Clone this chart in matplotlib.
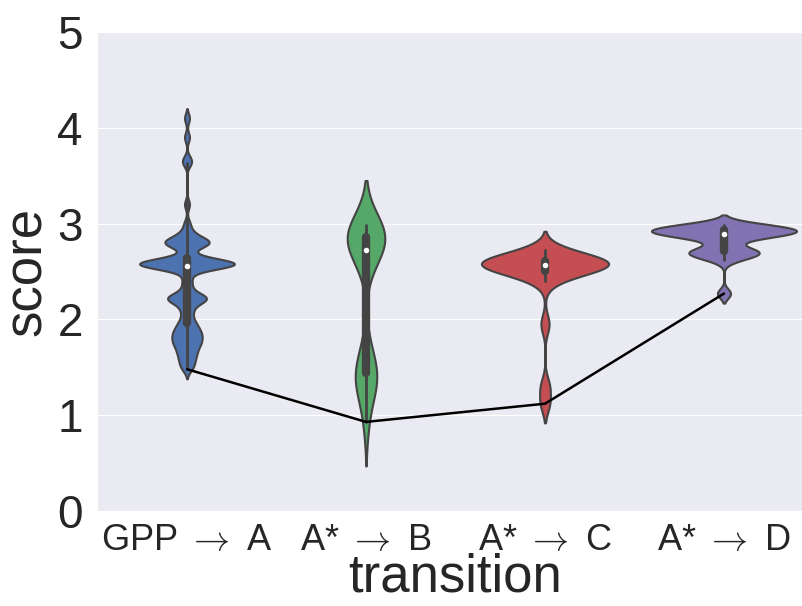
import matplotlib
matplotlib.use("Agg")
import matplotlib.pyplot as plt
import numpy as np
import seaborn as sns

# transitions on the x axis
transitions = [r"GPP $\rightarrow$ A", r"A* $\rightarrow$ B",
               r"A* $\rightarrow$ C", r"A* $\rightarrow$ D"]
colors = ["#4C72B0", "#55A868", "#C44E52", "#8172B2"]

# scores per transition
scores_gpp_a = [1.48, 1.52, 1.56, 1.6, 1.63, 1.66, 1.69, 1.72, 1.74, 1.76, 1.78, 1.8,
                1.82, 1.84, 1.86, 1.88, 1.9, 1.93, 1.96, 1.99, 2.05, 2.1, 2.14,
                2.19, 2.2, 2.21, 2.22, 2.22, 2.23, 2.24, 2.26, 2.32, 2.38, 2.44,
                2.52, 2.54, 2.55, 2.56, 2.56, 2.57, 2.57, 2.57, 2.57, 2.57, 2.58,
                2.58, 2.58, 2.58, 2.59, 2.59, 2.6, 2.6, 2.61, 2.62, 2.63, 2.65,
                2.74, 2.77, 2.78, 2.79, 2.8, 2.8, 2.81, 2.82, 2.83, 2.85, 2.88, 2.92,
                3.0, 3.2, 3.63, 3.67, 3.9, 4.1]
scores_a_b = [0.93, 1.25, 1.33, 1.36, 1.4, 1.45, 1.55, 1.7,
              2.55, 2.7, 2.74, 2.78, 2.81, 2.83, 2.85, 2.89, 2.92, 2.95, 2.97, 2.99]
scores_a_c = [1.12, 1.3, 1.95, 2.4, 2.47, 2.5, 2.52, 2.54, 2.55, 2.56, 2.57,
              2.57, 2.58, 2.58, 2.59, 2.6, 2.61, 2.62, 2.63, 2.65, 2.68, 2.72]
scores_a_d = [2.27, 2.62, 2.66, 2.68, 2.7, 2.7, 2.72, 2.76, 2.84, 2.86, 2.88, 2.89,
              2.9, 2.9, 2.91, 2.92, 2.93, 2.94, 2.95, 2.96, 2.97, 2.98, 2.99]
all_scores = [scores_gpp_a, scores_a_b, scores_a_c, scores_a_d]

# kernel bandwidth and violin width for each transition
bandwidths = [0.05, 0.23, 0.1, 0.05]
widths = [0.53, 0.21, 0.71, 0.81]

sns.set_style("darkgrid")
plt.rcParams['font.family'] = ['Liberation Sans', 'DejaVu Sans']
plt.rcParams['mathtext.fontset'] = 'cm'

fig = plt.figure(figsize=(8.03, 6.06), dpi=100)
ax = fig.add_axes([97.5 / 803, 95 / 606, 716 / 803, 479 / 606])

for name, data, col, bw, w in zip(transitions, all_scores, colors, bandwidths, widths):
    data = np.array(data)
    sns.violinplot(x=[name] * len(data), y=data, order=transitions, color=col,
                   saturation=1, width=w, bw_method=bw / np.std(data, ddof=1),
                   cut=2, gridsize=400, linewidth=1.5, linecolor="#444444",
                   inner="box",
                   inner_kws=dict(box_width=6, whis_width=2, marker="o",
                                  markersize=4, markeredgewidth=0),
                   ax=ax)

# line joining the lowest score of each transition
ax.plot(range(len(transitions)), [min(s) for s in all_scores], color="black",
        linewidth=1.8, zorder=5)

ax.set_ylim(0, 5)
ax.set_xlim(-0.5, 3.5)
ax.set_yticks([0, 1, 2, 3, 4, 5])
ax.tick_params(axis='y', labelsize=33, pad=7)
ax.tick_params(axis='x', labelsize=26, pad=5)
ax.set_xlabel("transition", fontsize=38, labelpad=-4)
ax.set_ylabel("score", fontsize=38, labelpad=4)

plt.savefig("out.png", dpi=100)
